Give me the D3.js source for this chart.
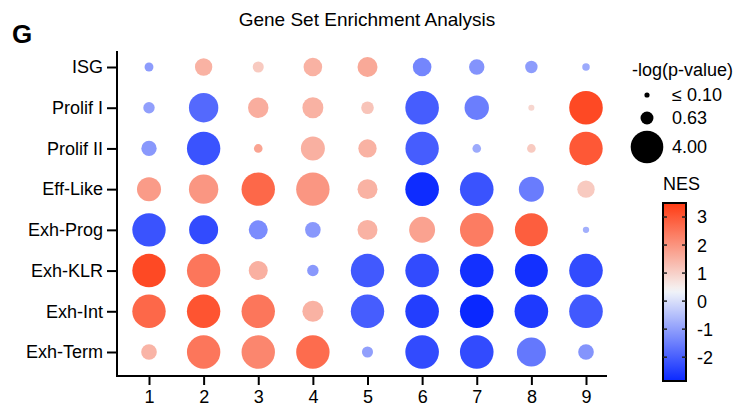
<!DOCTYPE html>
<meta charset="utf-8">
<script src="https://d3js.org/d3.v7.min.js"></script>
<style>
  body { margin: 0; background: #fff; }
  text { font-family: "Liberation Sans", Arial, sans-serif; fill: #000; }
</style>
<div id="my_dataviz"></div>
<script>

// gene sets (rows) and clusters (columns)
var pathways = ["ISG", "Prolif I", "Prolif II", "Eff-Like", "Exh-Prog", "Exh-KLR", "Exh-Int", "Exh-Term"];
var clusters = ["1", "2", "3", "4", "5", "6", "7", "8", "9"];

// normalized enrichment score, one row per gene set
var nes = [
  [-1.04, 1.5, 1.1, 1.5, 1.65, -1.38, -1.18, -1.04, -0.83],
  [-0.99, -1.83, 1.58, 1.5, 1.2, -2.02, -1.51, 0.9, 3.25],
  [-1.1, -2.18, 1.74, 1.53, 1.5, -2.02, -0.83, 1.1, 3.0],
  [1.88, 1.96, 2.74, 1.96, 1.5, -2.79, -2.18, -1.54, 1.1],
  [-2.18, -2.3, -1.29, -1.1, 1.5, 1.76, 2.4, 2.9, -0.75],
  [3.25, 2.5, 1.53, -1.1, -2.09, -2.3, -2.72, -2.72, -2.3],
  [2.74, 3.07, 2.5, 1.5, -2.02, -2.5, -2.85, -2.57, -2.09],
  [1.47, 2.5, 2.23, 2.67, -0.99, -2.3, -2.3, -1.6, -1.17]
];

// -log(p-value), same layout
var logp = [
  [0.30, 1.14, 0.46, 1.30, 1.50, 1.30, 0.89, 0.58, 0.21],
  [0.49, 3.25, 1.57, 1.66, 0.60, 4.25, 2.24, 0.14, 4.25],
  [0.89, 4.2, 0.28, 2.17, 1.27, 4.2, 0.28, 0.28, 4.2],
  [2.17, 3.25, 4.2, 4.2, 1.5, 4.25, 4.25, 2.35, 1.14],
  [4.2, 3.17, 1.36, 0.92, 1.5, 2.54, 4.25, 4.1, 0.15],
  [4.2, 4.2, 1.36, 0.49, 4.2, 4.25, 4.25, 4.1, 4.25],
  [4.2, 4.2, 4.2, 1.66, 4.2, 4.25, 4.25, 4.25, 4.25],
  [0.92, 4.2, 4.2, 4.2, 0.46, 4.25, 4.25, 3.17, 0.92]
];

// legend values
var sizeLegend = [0.10, 0.63, 4.00];
var sizeLabels = ["\u2264 0.10", "0.63", "4.00"];
var nesTicks = [-2, -1, 0, 1, 2, 3];

var width = 736, height = 414;
var plot = {left: 117, right: 607, top: 51, bottom: 376};

var svg = d3.select("#my_dataviz")
  .append("svg")
    .attr("width", width)
    .attr("height", height);

// flatten to cells
var cells = [];
pathways.forEach(function(p, i) {
  clusters.forEach(function(c, j) {
    cells.push({pathway: p, cluster: c, nes: nes[i][j], logp: logp[i][j]});
  });
});

var x = d3.scalePoint()
  .domain(clusters)
  .range([plot.left + 32, plot.right - 21]);

var y = d3.scalePoint()
  .domain(pathways)
  .range([plot.top + 16, plot.bottom - 24]);

var r = d3.scaleSqrt()
  .domain([0, 4])
  .range([0, 16.3]);

// blue -> near white -> red, white sits a bit above 0
var color = d3.scaleLinear()
  .domain([-2.85, 0.3, 0.5, 3.5])
  .range(["#0a28ff", "#eef2fa", "#f6eeec", "#ff3a12"]);

// title + panel letter
svg.append("text")
  .attr("x", 367).attr("y", 26)
  .attr("text-anchor", "middle")
  .style("font-size", "19px")
  .text("Gene Set Enrichment Analysis");

svg.append("text")
  .attr("x", 12).attr("y", 43)
  .style("font-size", "26px")
  .style("font-weight", "bold")
  .text("G");

// axes
var xAxis = svg.append("g")
  .attr("transform", "translate(0," + plot.bottom + ")")
  .call(d3.axisBottom(x).tickSize(9).tickPadding(5));
xAxis.select(".domain").remove();

var yAxis = svg.append("g")
  .attr("transform", "translate(" + plot.left + ",0)")
  .call(d3.axisLeft(y).tickSize(10).tickPadding(4));
yAxis.select(".domain").remove();

svg.selectAll(".tick line").attr("stroke", "#000").attr("stroke-width", 2);
svg.selectAll(".tick text")
  .style("font-size", "18px")
  .style("font-family", "'Liberation Sans', Arial, sans-serif")
  .attr("fill", "#000");

svg.append("path")
  .attr("d", "M" + plot.left + "," + plot.top + "V" + plot.bottom + "H" + plot.right)
  .attr("fill", "none")
  .attr("stroke", "#000")
  .attr("stroke-width", 2);

// dots
svg.selectAll("mycircle")
  .data(cells)
  .enter()
  .append("circle")
    .attr("cx", function(d) { return x(d.cluster); })
    .attr("cy", function(d) { return y(d.pathway); })
    .attr("r", function(d) { return r(d.logp); })
    .style("fill", function(d) { return color(d.nes); });

// size legend
svg.append("text")
  .attr("x", 632).attr("y", 76)
  .style("font-size", "18px")
  .text("-log(p-value)");

var sizeY = [95, 118, 147];
var sl = svg.append("g");
sl.selectAll("circle")
  .data(sizeLegend)
  .enter()
  .append("circle")
    .attr("cx", 647)
    .attr("cy", function(d, i) { return sizeY[i]; })
    .attr("r", function(d) { return r(d); })
    .style("fill", "#000");
sl.selectAll("text")
  .data(sizeLabels)
  .enter()
  .append("text")
    .attr("x", 672)
    .attr("y", function(d, i) { return sizeY[i]; })
    .attr("dy", "0.36em")
    .style("font-size", "18px")
    .text(function(d) { return d; });

// colour bar
var bar = {x: 663, w: 23, top: 203, bottom: 381};
var cy = d3.scaleLinear()
  .domain([3.5, -2.85])
  .range([bar.top, bar.bottom]);

var grad = svg.append("defs").append("linearGradient")
  .attr("id", "nesgrad")
  .attr("x1", 0).attr("y1", 0).attr("x2", 0).attr("y2", 1);
d3.range(0, 1.0001, 0.025).forEach(function(t) {
  grad.append("stop")
    .attr("offset", t)
    .attr("stop-color", color(cy.invert(bar.top + t * (bar.bottom - bar.top))));
});

svg.append("text")
  .attr("x", 663).attr("y", 190)
  .style("font-size", "18px")
  .text("NES");

svg.append("rect")
  .attr("x", bar.x).attr("y", bar.top)
  .attr("width", bar.w).attr("height", bar.bottom - bar.top)
  .attr("fill", "url(#nesgrad)")
  .attr("stroke", "#000")
  .attr("stroke-width", 2);

var ct = svg.append("g");
ct.selectAll("line.l")
  .data(nesTicks).enter().append("line")
    .attr("x1", bar.x).attr("x2", bar.x + 4)
    .attr("y1", function(d) { return cy(d); })
    .attr("y2", function(d) { return cy(d); })
    .attr("stroke", "#222").attr("stroke-width", 1.5);
ct.selectAll("line.r")
  .data(nesTicks).enter().append("line")
    .attr("x1", bar.x + bar.w - 4).attr("x2", bar.x + bar.w)
    .attr("y1", function(d) { return cy(d); })
    .attr("y2", function(d) { return cy(d); })
    .attr("stroke", "#222").attr("stroke-width", 1.5);
ct.selectAll("text")
  .data(nesTicks).enter().append("text")
    .attr("x", 697)
    .attr("y", function(d) { return cy(d); })
    .attr("dy", "0.36em")
    .style("font-size", "18px")
    .text(function(d) { return d; });

</script>
